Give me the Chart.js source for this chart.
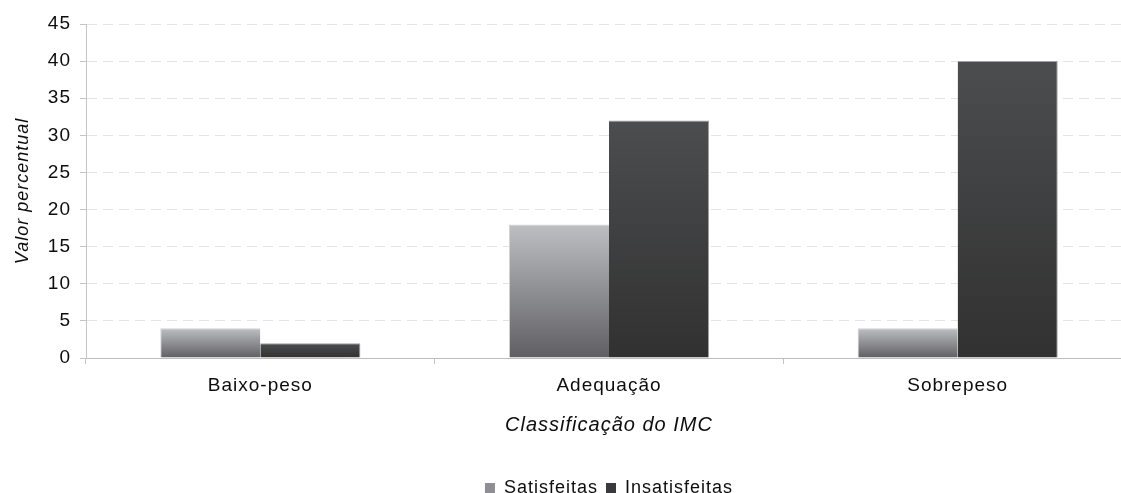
<!DOCTYPE html>
<html>
<head>
<meta charset="utf-8">
<script src="https://cdn.jsdelivr.net/npm/chart.js@4.4.1/dist/chart.umd.min.js"></script>
<style>
  html, body { margin: 0; padding: 0; background: #ffffff; overflow: hidden; }
  #wrap { width: 1135px; height: 493px; }
</style>
</head>
<body>
<div id="wrap"><canvas id="c" width="1135" height="493"></canvas></div>
<script>
const categories = ['Baixo-peso', 'Adequação', 'Sobrepeso'];
const satisfeitas = [4, 18, 4];
const insatisfeitas = [2, 32, 40];
const seriesNames = ['Satisfeitas', 'Insatisfeitas'];
const yTicks = [0, 5, 10, 15, 20, 25, 30, 35, 40, 45];

const FONT = '"Liberation Sans", Arial, sans-serif';
const TEXT = '#0d0d0d';

function barGradient(topColor, bottomColor, solid) {
  return (ctx) => {
    if (ctx.type !== 'data') return solid;
    const chart = ctx.chart;
    const y = chart.scales && chart.scales.y;
    if (!chart.chartArea || !y) return solid;
    const top = y.getPixelForValue(ctx.raw);
    const bottom = y.getPixelForValue(0);
    if (!isFinite(top) || !isFinite(bottom) || top === bottom) return solid;
    const g = chart.ctx.createLinearGradient(0, top, 0, bottom);
    g.addColorStop(0, topColor);
    g.addColorStop(1, bottomColor);
    return g;
  };
}

const spacingPlugin = {
  id: 'spacing',
  beforeInit(chart) { chart.ctx.letterSpacing = '1px'; },
  beforeLayout(chart) { chart.ctx.letterSpacing = '1px'; },
  beforeDraw(chart) { chart.ctx.letterSpacing = '1px'; }
};

const legendPlace = {
  id: 'legendPlace',
  afterLayout(chart) {
    const l = chart.legend;
    const ca = chart.chartArea;
    if (!l || !ca) return;
    l.left = ca.left; l.right = ca.right; l.width = ca.right - ca.left;
    const h = l.height;
    l.top = 471; l.bottom = 471 + h;
  }
};

new Chart(document.getElementById('c'), {
  type: 'bar',
  data: {
    labels: categories,
    datasets: [
      {
        label: seriesNames[0],
        data: satisfeitas,
        backgroundColor: barGradient('#bebfc2', '#5f5f63', '#8d8d91'),
        borderColor: '#d2d2d4',
        borderWidth: {top: 1, left: 1, right: 0, bottom: 0},
        borderSkipped: false,
        categoryPercentage: 0.574,
        barPercentage: 1.0
      },
      {
        label: seriesNames[1],
        data: insatisfeitas,
        backgroundColor: barGradient('#4c4d4f', '#313131', '#3d3d3f'),
        borderColor: '#a0a0a2',
        borderWidth: {top: 1, left: 0, right: 1, bottom: 0},
        borderSkipped: false,
        categoryPercentage: 0.574,
        barPercentage: 1.0
      }
    ]
  },
  options: {
    responsive: false,
    animation: false,
    devicePixelRatio: 1,
    layout: { padding: { left: 0, right: 3, top: 24, bottom: 20 } },
    plugins: {
      tooltip: { enabled: false },
      legend: {
        position: 'bottom',
        labels: {
          boxWidth: 10,
          boxHeight: 10,
          padding: 8,
          color: TEXT,
          font: { family: FONT, size: 18 },
          generateLabels(chart) {
            const fills = ['#8f8f93', '#3a3a3c'];
            return chart.data.datasets.map((ds, i) => ({
              text: ds.label,
              fillStyle: fills[i],
              strokeStyle: fills[i],
              lineWidth: 0,
              hidden: false,
              datasetIndex: i,
              fontColor: TEXT
            }));
          }
        }
      }
    },
    scales: {
      x: {
        afterFit(scale) { scale.height = 79; },
        grid: {
          display: true,
          drawOnChartArea: false,
          drawTicks: true,
          tickLength: 6,
          tickColor: '#c4c4c4',
          color: '#c4c4c4',
          offset: true
        },
        border: { display: true, color: '#bdbdbd', width: 1 },
        ticks: {
          padding: 10,
          color: TEXT,
          font: { family: FONT, size: 19 }
        },
        title: {
          display: true,
          text: 'Classificação do IMC',
          color: TEXT,
          font: { family: FONT, size: 20, style: 'italic' },
          padding: { top: 0, bottom: 0 }
        }
      },
      y: {
        min: 0,
        max: 45,
        afterFit(scale) { scale.width = 86; },
        afterBuildTicks(scale) { scale.ticks = yTicks.map(v => ({ value: v })); },
        grid: {
          color: '#e4e4e4',
          drawTicks: true,
          tickLength: 6,
          tickColor: '#c4c4c4',
          tickBorderDash: []
        },
        border: { display: true, color: '#c4c4c4', width: 1, dash: [10, 6] },
        ticks: {
          padding: 9,
          color: TEXT,
          font: { family: FONT, size: 19 }
        },
        title: {
          display: true,
          text: 'Valor percentual',
          color: TEXT,
          font: { family: FONT, size: 18, style: 'italic' },
          padding: { top: 12, bottom: 0 }
        }
      }
    }
  },
  plugins: [spacingPlugin, legendPlace]
});
</script>
</body>
</html>
